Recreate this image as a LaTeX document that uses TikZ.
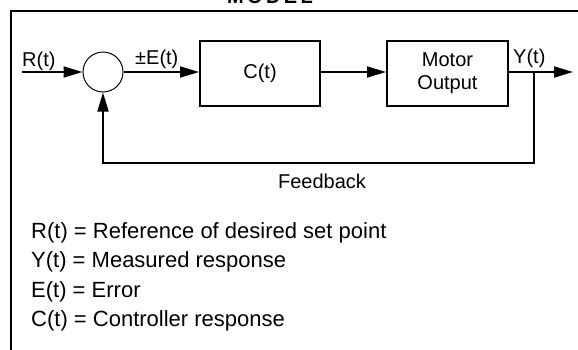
\documentclass[tikz,border=0pt]{standalone}
\usepackage{fontspec}
\setmainfont{Liberation Sans}
\usetikzlibrary{arrows.meta}
\begin{document}
\begin{tikzpicture}[x=1pt,y=-1pt,
  lbl/.style={font=\fontsize{20}{24}\selectfont, inner sep=0pt},
  legend/.style={font=\fontsize{22}{29.5}\selectfont, inner sep=0pt, anchor=base west},
  blk/.style={draw, line width=2pt, rectangle, inner sep=0pt, font=\fontsize{20}{23}\selectfont, align=center},
  sumc/.style={draw, line width=1pt, circle, minimum size=40pt, inner sep=0pt},
  conn/.style={line width=1.8pt},
  arr/.style={conn, -{Triangle[length=19pt,width=11pt]}},
  frame/.style={line width=2.2pt}
  ]
\useasboundingbox (0,0) rectangle (578,349);
% frame
\coordinate (fbl) at (11,360);
\coordinate (ftl) at (11,11);
\coordinate (ftr) at (590,11);
\draw[frame] (fbl) -- (ftl) -- (ftr);
\node[font=\bfseries\fontsize{20}{24}\selectfont, inner sep=0pt, anchor=base] (title) at (270,3) {M\,O\,D\,E\,L};
% blocks
\node[sumc] (sum) at (103,72) {};
\node[blk, minimum width=120pt, minimum height=65pt] (ctl) at (260,73.5) {C(t)};
\node[blk, minimum width=121pt, minimum height=65pt] (mot) at (447.5,73.5) {Motor\\Output};
% coordinates
\coordinate (in) at (22,72);
\coordinate (out) at (573,72);
\coordinate (br) at (534,72);
\coordinate (fb1) at (534,163);
\coordinate (fb2) at (103,163);
% connectors
\draw[arr] (in) -- (sum);
\draw[arr] (sum.east) -- (ctl.west |- sum.east);
\draw[arr] (ctl.east |- sum.east) -- (mot.west |- sum.east);
\draw[arr] (mot.east |- sum.east) -- (out);
\draw[arr] (br) -- (fb1) -- (fb2) -- (sum.south);
% labels
\node[lbl, anchor=base west] (rl) at (22,66) {R(t)};
\node[lbl, anchor=base west] (el) at (135,64) {±E(t)};
\node[lbl, anchor=base west] (yl) at (513,63) {Y(t)};
\node[lbl, anchor=base] (fbl) at (322,188) {Feedback};
% legend
\node[legend] (l1) at (31,238) {R(t) = Reference of desired set point};
\node[legend] (l2) at (31,267.5) {Y(t) = Measured response};
\node[legend] (l3) at (31,297) {E(t) = Error};
\node[legend] (l4) at (31,326.5) {C(t) = Controller response};
\end{tikzpicture}
\end{document}
